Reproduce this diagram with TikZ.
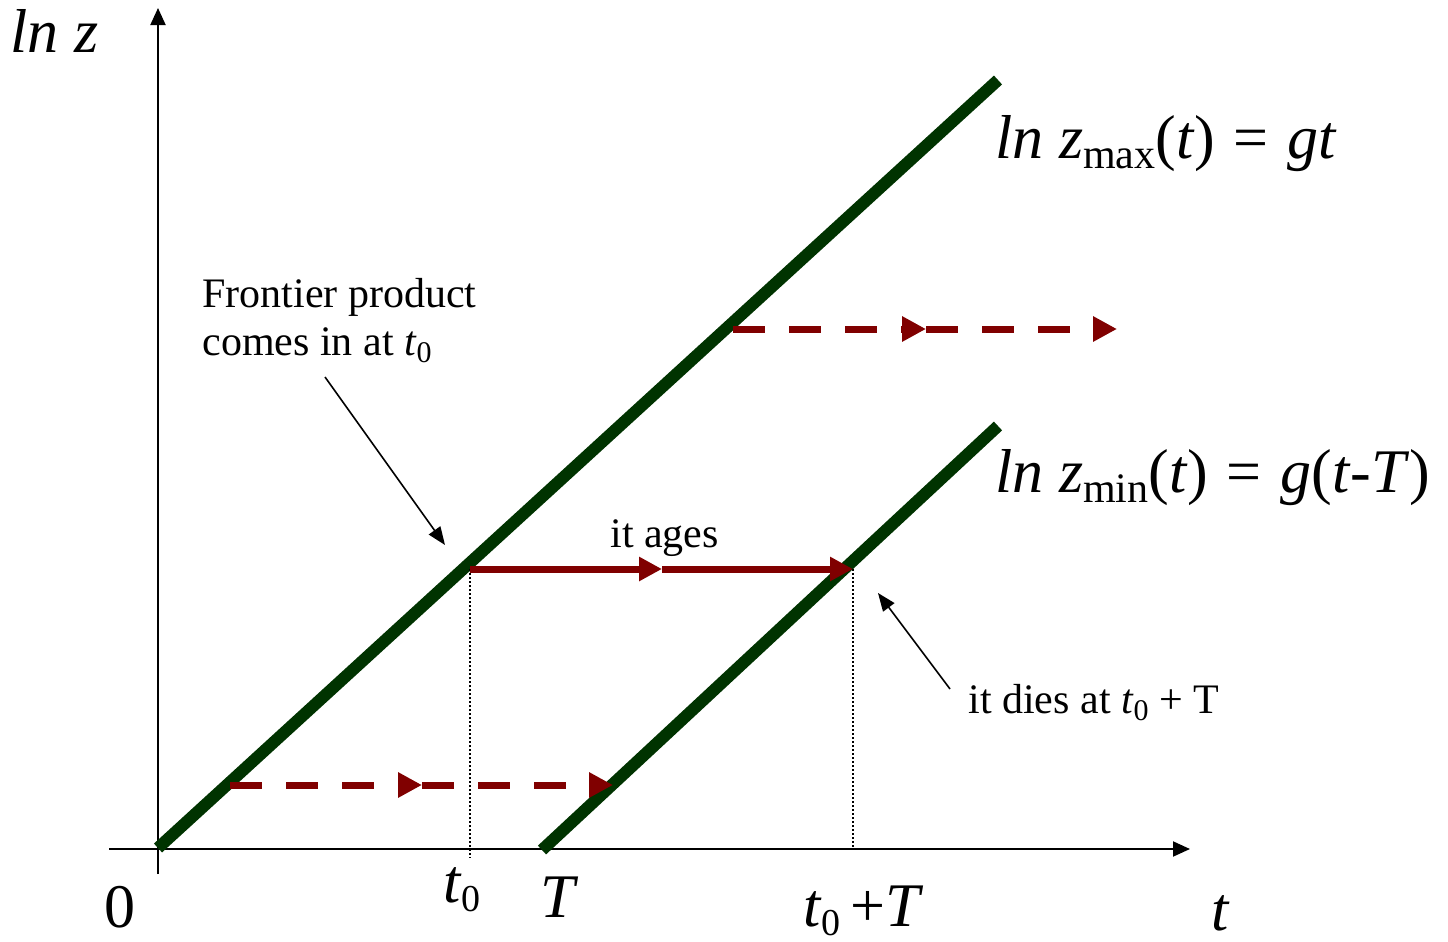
\documentclass[tikz,border=0pt]{standalone}
\usepackage{fontspec}
\setmainfont{Liberation Serif}
\usetikzlibrary{arrows.meta}
\definecolor{dkgreen}{RGB}{0,51,0}
\definecolor{dkred}{RGB}{128,0,0}
\newcommand{\bsub}[1]{\raisebox{-5pt}{\fontsize{21}{23}\selectfont #1}}
\newcommand{\asub}[1]{\raisebox{-4.5pt}{\fontsize{19}{21}\selectfont #1}}
\newcommand{\ssub}[1]{\raisebox{-3.5pt}{\fontsize{15}{17}\selectfont #1}}
\newcommand{\eqsp}{\hspace{0.3em}=\hspace{0.3em}}
\tikzset{
  axisline/.style={line width=1pt,-{Triangle[length=8.5pt,width=7.5pt]}},
  frontier/.style={line width=6pt,dkgreen},
  ages/.style={line width=3.5pt,dkred,-{Triangle[length=11.5pt,width=11.5pt]}},
  shiftarrow/.style={line width=3.5pt,dkred,dash pattern=on 16pt off 12pt,-{Triangle[length=12pt,width=12pt]}},
  guide/.style={line width=0.6pt,dash pattern=on 1pt off 1pt},
  pointer/.style={line width=0.8pt,-{Triangle[length=9pt,width=7pt]}},
  big/.style={font=\fontsize{31}{36}\selectfont,inner sep=0pt},
  small/.style={font=\fontsize{21}{25}\selectfont,inner sep=0pt},
}
\begin{document}
\begin{tikzpicture}[x=0.5pt,y=-0.5pt]
\useasboundingbox (0,0) rectangle (1448,942);
% axes
\coordinate (ybot) at (158,874);
\coordinate (ytop) at (158,8);
\coordinate (xl) at (109,849);
\coordinate (xr) at (1190,849);
\draw[axisline] (ybot) -- (ytop);
\draw[axisline] (xl) -- (xr);
% frontier lines
\coordinate (u0) at (158,848);
\coordinate (u1) at (998,80);
\coordinate (l0) at (542,850);
\coordinate (l1) at (998,426);
\draw[frontier] (u0) -- (u1);
\draw[frontier] (l0) -- (l1);
% dotted guides
\coordinate (g1t) at (470,569);
\coordinate (g1b) at (470,858);
\coordinate (g2t) at (853,569);
\coordinate (g2b) at (853,848);
\draw[guide] (g1t) -- (g1b);
\draw[guide] (g2t) -- (g2b);
% it ages
\coordinate (a1) at (470,569);
\coordinate (a2) at (662,569);
\coordinate (a3) at (853,569);
\draw[ages] (a1) -- (a2);
\draw[ages] (a2) -- (a3);
% dashed shifts
\coordinate (t1) at (733,329);
\coordinate (t2) at (926,329);
\coordinate (t3) at (1117,329);
\draw[shiftarrow] (t1) -- (t2);
\draw[shiftarrow] (t2) -- (t3);
\coordinate (b1) at (230,785);
\coordinate (b2) at (422,785);
\coordinate (b3) at (613,785);
\draw[shiftarrow] (b1) -- (b2);
\draw[shiftarrow] (b2) -- (b3);
% labels
\node[big,anchor=base west] (lnz) at (10,53) {\itshape ln z};
\node[big,anchor=base] (zero) at (120,927) {0};
\node[big,anchor=base west] (lt0) at (443,902) {\itshape t\/\asub{\upshape 0}};
\node[big,anchor=base west] (lT) at (540,917) {\itshape T};
\node[big,anchor=base west] (lt0T) at (803,926) {\itshape t\/\asub{\upshape 0}\hspace{0.15em}\upshape+\itshape T};
\node[big,anchor=base west] (lt) at (1211,930) {\itshape t};
\node[big,anchor=base west] (lmax) at (995,158) {\itshape ln z\/\bsub{\upshape max}\upshape(\itshape t\/\upshape)\eqsp\itshape gt};
\node[big,anchor=base west] (lmin) at (995,492) {\itshape ln z\/\bsub{\upshape min}\upshape(\itshape t\/\upshape)\eqsp\itshape g\/\upshape(\itshape t\/\upshape -\itshape T\/\upshape)};
\node[small,anchor=base west] (front1) at (202,307) {Frontier product};
\node[small,anchor=base west] (front2) at (202,355) {comes in at \textit{t}\ssub{0}};
\node[small,anchor=base west] (agelab) at (610,547) {it ages};
\node[small,anchor=base west] (dies) at (968,713) {it dies at \textit{t}\ssub{0} + T};
% pointers
\coordinate (p1s) at (325,377);
\coordinate (p1e) at (445,545);
\coordinate (p2s) at (950,689);
\coordinate (p2e) at (878,593);
\draw[pointer] (p1s) -- (p1e);
\draw[pointer] (p2s) -- (p2e);
\end{tikzpicture}
\end{document}
